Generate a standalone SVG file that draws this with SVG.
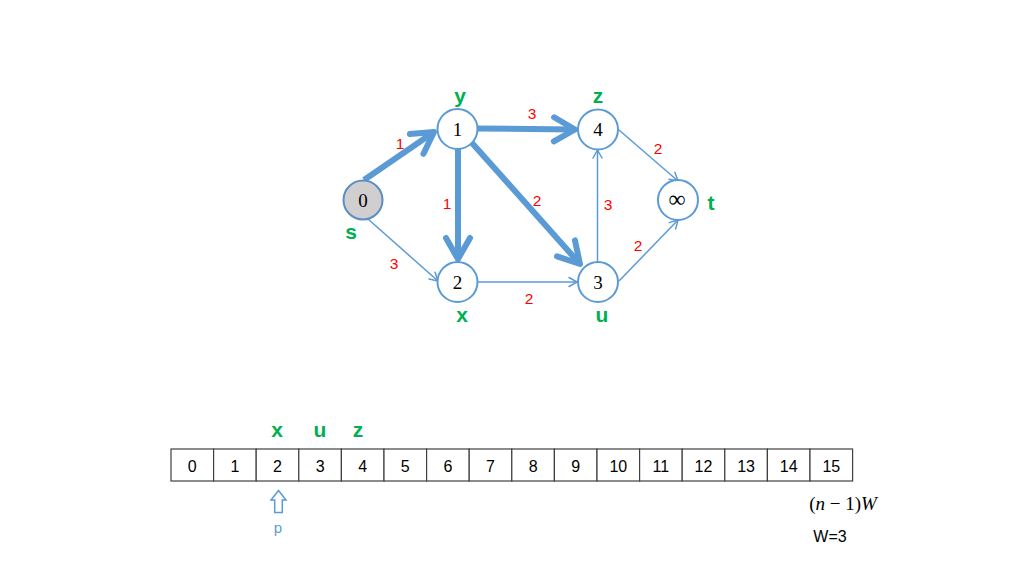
<svg xmlns="http://www.w3.org/2000/svg" width="1024" height="576" viewBox="0 0 1024 576">
<style>
.node circle{fill:#fff;stroke:#5B9BD5;stroke-width:2}
.ntxt{font-family:"Liberation Serif",serif;font-size:19px;fill:#000;text-anchor:middle}
.lbl{font-family:"Liberation Sans",Arial,sans-serif;font-weight:bold;font-size:21px;fill:#00B050;text-anchor:middle}
.w{font-family:"Liberation Sans",Arial,sans-serif;font-size:15.5px;fill:#FF0000;text-anchor:middle}
.thick{stroke:#5B9BD5;stroke-width:6;fill:none;marker-end:url(#big)}
.thin{stroke:#5B9BD5;stroke-width:1.5;fill:none;marker-end:url(#small)}
.cell{fill:#fff;stroke:#404040;stroke-width:1.2}
.ctxt{font-family:"Liberation Sans",Arial,sans-serif;font-size:16px;fill:#000;text-anchor:middle}
</style>
<defs>
<marker id="big" markerUnits="userSpaceOnUse" viewBox="-30 -16 34 32" refX="0" refY="0" markerWidth="34" markerHeight="32" orient="auto" overflow="visible">
<path d="M-21,-12 L0,0 L-21,12" fill="none" stroke="#5B9BD5" stroke-width="6" stroke-linecap="round" stroke-linejoin="round"/>
</marker>
<marker id="small" markerUnits="userSpaceOnUse" viewBox="-12 -8 14 16" refX="0" refY="0" markerWidth="14" markerHeight="16" orient="auto" overflow="visible">
<path d="M-8,-4.5 L0,0 L-8,4.5" fill="none" stroke="#5B9BD5" stroke-width="1.5" stroke-linecap="round" stroke-linejoin="round"/>
</marker>
</defs>
<rect width="1024" height="576" fill="#fff"/>
<g id="connectors">
<line class="thick" x1="364" y1="180" x2="434" y2="132"/>
<line class="thick" x1="478" y1="128.5" x2="575" y2="129.5"/>
<line class="thick" x1="458" y1="149" x2="458" y2="259"/>
<line class="thick" x1="472" y1="143" x2="580" y2="264"/>
<line class="thin" x1="368" y1="219" x2="438" y2="281"/>
<line class="thin" x1="478" y1="282" x2="577" y2="282"/>
<line class="thin" x1="597.5" y1="262" x2="597.5" y2="150"/>
<line class="thin" x1="619" y1="130" x2="678" y2="181"/>
<line class="thin" x1="619" y1="281" x2="678" y2="220"/>
</g>
<g id="weights">
<text class="w" x="400" y="148.5">1</text>
<text class="w" x="532" y="118.5">3</text>
<text class="w" x="658" y="153.5">2</text>
<text class="w" x="447" y="208.5">1</text>
<text class="w" x="537" y="205.5">2</text>
<text class="w" x="608" y="209.5">3</text>
<text class="w" x="638" y="250.5">2</text>
<text class="w" x="394" y="268.5">3</text>
<text class="w" x="529" y="303.5">2</text>
</g>
<g id="node-s" class="node">
<circle cx="363" cy="200" r="19.5" style="fill:#D0CECE;stroke:#5B8EC5"/>
<text class="ntxt" x="363" y="206.5">0</text>
<text class="lbl" x="351" y="239">s</text>
</g>
<g id="node-y" class="node">
<circle cx="457.5" cy="129" r="20"/>
<text class="ntxt" x="457.5" y="135.5">1</text>
<text class="lbl" x="460" y="103">y</text>
</g>
<g id="node-z" class="node">
<circle cx="598" cy="129.5" r="20"/>
<text class="ntxt" x="598" y="136">4</text>
<text class="lbl" x="598" y="103">z</text>
</g>
<g id="node-t" class="node">
<circle cx="678" cy="200" r="20"/>
<text class="ntxt" x="677" y="207" style="font-size:24px">∞</text>
<text class="lbl" x="711" y="210">t</text>
</g>
<g id="node-x" class="node">
<circle cx="457.5" cy="282" r="20"/>
<text class="ntxt" x="457.5" y="288.5">2</text>
<text class="lbl" x="462" y="322">x</text>
</g>
<g id="node-u" class="node">
<circle cx="598" cy="282" r="20"/>
<text class="ntxt" x="598" y="288.5">3</text>
<text class="lbl" x="602" y="322">u</text>
</g>
<g id="bucket-labels">
<text class="lbl" x="277" y="437">x</text>
<text class="lbl" x="320" y="437">u</text>
<text class="lbl" x="358" y="437">z</text>
</g>
<g id="array">
<rect class="cell" x="171" y="449" width="42.6" height="32"/>
<rect class="cell" x="213.6" y="449" width="42.6" height="32"/>
<rect class="cell" x="256.2" y="449" width="42.6" height="32"/>
<rect class="cell" x="298.8" y="449" width="42.6" height="32"/>
<rect class="cell" x="341.4" y="449" width="42.6" height="32"/>
<rect class="cell" x="384" y="449" width="42.6" height="32"/>
<rect class="cell" x="426.6" y="449" width="42.6" height="32"/>
<rect class="cell" x="469.2" y="449" width="42.6" height="32"/>
<rect class="cell" x="511.8" y="449" width="42.6" height="32"/>
<rect class="cell" x="554.4" y="449" width="42.6" height="32"/>
<rect class="cell" x="597" y="449" width="42.6" height="32"/>
<rect class="cell" x="639.6" y="449" width="42.6" height="32"/>
<rect class="cell" x="682.2" y="449" width="42.6" height="32"/>
<rect class="cell" x="724.8" y="449" width="42.6" height="32"/>
<rect class="cell" x="767.4" y="449" width="42.6" height="32"/>
<rect class="cell" x="810" y="449" width="42.6" height="32"/>
<text class="ctxt" x="192.3" y="472">0</text>
<text class="ctxt" x="234.9" y="472">1</text>
<text class="ctxt" x="277.5" y="472">2</text>
<text class="ctxt" x="320.1" y="472">3</text>
<text class="ctxt" x="362.7" y="472">4</text>
<text class="ctxt" x="405.3" y="472">5</text>
<text class="ctxt" x="447.9" y="472">6</text>
<text class="ctxt" x="490.5" y="472">7</text>
<text class="ctxt" x="533.1" y="472">8</text>
<text class="ctxt" x="575.7" y="472">9</text>
<text class="ctxt" x="618.3" y="472">10</text>
<text class="ctxt" x="660.9" y="472">11</text>
<text class="ctxt" x="703.5" y="472">12</text>
<text class="ctxt" x="746.1" y="472">13</text>
<text class="ctxt" x="788.7" y="472">14</text>
<text class="ctxt" x="831.3" y="472">15</text>
</g>
<g id="pointer">
<path d="M278.5,490.5 L286,500 L282.3,500 L282.3,512.5 L274.7,512.5 L274.7,500 L271,500 Z" fill="#fff" stroke="#5B9BD5" stroke-width="1.5" stroke-linejoin="miter"/>
<text x="278" y="533" style="font-family:'Liberation Sans',Arial,sans-serif;font-size:15px;fill:#5B9BD5;text-anchor:middle">p</text>
</g>
<g id="notes">
<text x="843" y="510" style="font-family:'Liberation Serif',serif;font-size:19px;fill:#000;text-anchor:middle">(<tspan font-style="italic">n</tspan> − 1)<tspan font-style="italic">W</tspan></text>
<text x="830" y="542" style="font-family:'Liberation Sans',Arial,sans-serif;font-size:16px;fill:#000;text-anchor:middle">W=3</text>
</g>
</svg>
